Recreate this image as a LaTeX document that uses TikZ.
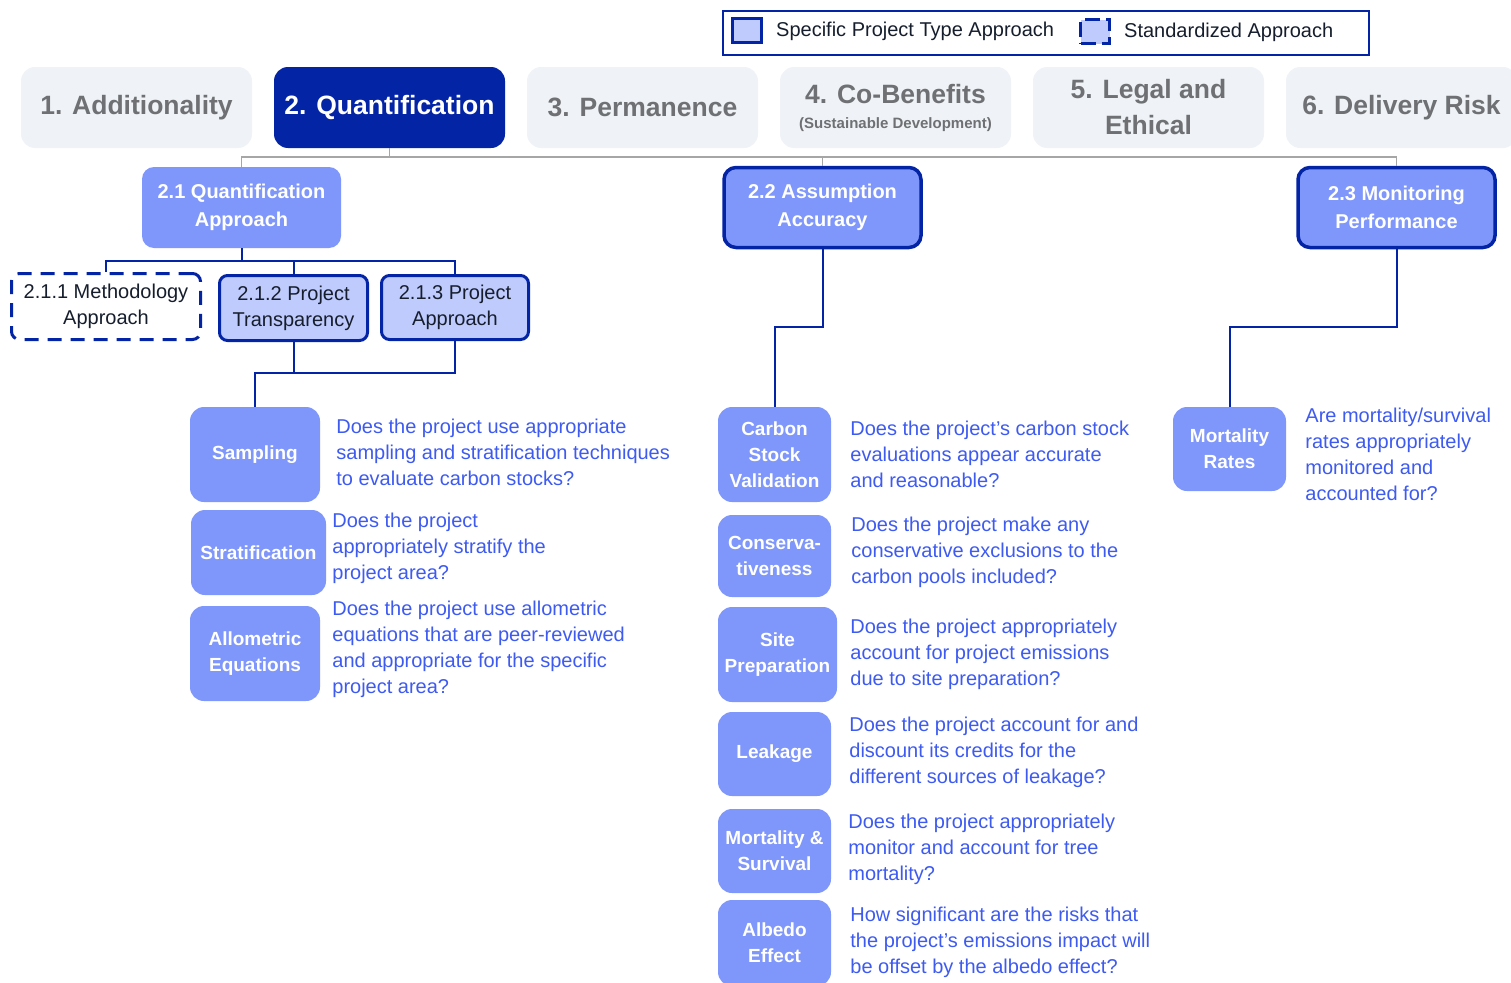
\documentclass[tikz,border=0pt]{standalone}
\usepackage{fontspec}
\setmainfont{Liberation Sans}
\usepackage{tikz}
\usetikzlibrary{positioning}

\definecolor{navy}{RGB}{4,36,166}
\definecolor{midblue}{RGB}{127,150,250}
\definecolor{paleblue}{RGB}{190,203,252}
\definecolor{tabgray}{RGB}{239,242,246}
\definecolor{tabtext}{RGB}{110,112,115}
\definecolor{qblue}{RGB}{61,90,241}
\definecolor{inkdark}{RGB}{22,30,45}
\definecolor{trunkgray}{RGB}{166,166,166}

\tikzstyle{tab} = [rectangle, fill=tabgray, text=tabtext, rounded corners=14pt, minimum width=231pt, minimum height=81pt, align=center, font=\bfseries\fontsize{26.5}{36}\selectfont]
\tikzstyle{tabon} = [tab, fill=navy, text=white]
\tikzstyle{topic} = [rectangle, fill=midblue, text=white, rounded corners=12pt, minimum width=199pt, minimum height=81pt, align=center, font=\bfseries\fontsize{20}{28}\selectfont]
\tikzstyle{topicspec} = [topic, draw=navy, line width=3.5pt, minimum width=197pt, minimum height=80pt]
\tikzstyle{sub} = [rectangle, fill=paleblue, draw=navy, line width=3pt, rounded corners=8pt, text=inkdark, align=center, font=\fontsize{20}{26}\selectfont]
\tikzstyle{substd} = [sub, fill=white, dash pattern=on 14pt off 9pt]
\tikzstyle{crit} = [rectangle, fill=midblue, text=white, rounded corners=14pt, inner sep=2pt, align=center, font=\bfseries\fontsize{19}{26}\selectfont]
\tikzstyle{question} = [inner sep=0pt, text=qblue, align=left, font=\fontsize{20}{26}\selectfont]
\tikzstyle{keybox} = [rectangle, fill=paleblue, draw=navy, line width=3pt, minimum width=29pt, minimum height=24pt]
\tikzstyle{keytext} = [inner sep=0pt, text=inkdark, font=\fontsize{20}{24}\selectfont]
\tikzstyle{trunk} = [draw=trunkgray, line width=1.5pt]
\tikzstyle{branch} = [draw=navy, line width=2pt]

\begin{document}
\begin{tikzpicture}[x=1pt, y=-1pt, node distance=16pt]
    \useasboundingbox (0,0) rectangle (1511,982);

    % Legend
    \node (legend) [rectangle, draw=navy, line width=2.5pt, minimum width=646pt, minimum height=44pt] at (1046,33) {};
    \node (keyspec) [keybox] at (747,31) {};
    \node (keyspectxt) [keytext, right=13pt of keyspec] {Specific Project Type Approach};
    \node (keystd) [keybox, dash pattern=on 15pt off 6pt] at (1095,32) {};
    \node (keystdtxt) [keytext, right=13pt of keystd] {Standardized Approach};

    % Pillars
    \node (add) [tab] at (136.5,107.5) {1. Additionality};
    \node (quant) [tabon] at (389.5,107.5) {2. Quantification};
    \node (perm) [tab] at (642.5,107.5) {3. Permanence};
    \node (cob) [tab] at (895.5,107.5) {4. Co-Benefits\\[-11pt]{\fontsize{15}{18}\selectfont (Sustainable Development)}};
    \node (legal) [tab] at (1148.5,107.5) {5. Legal and\\Ethical};
    \node (deliv) [tab] at (1401.5,107.5) {6. Delivery Risk};

    % Topics
    \node (qa) [topic] at (241.5,207.5) {2.1 Quantification\\Approach};
    \node (aa) [topicspec] at (822.5,207.5) {2.2 Assumption\\Accuracy};
    \node (mp) [topicspec] at (1396.5,207.5) {2.3 Monitoring\\Performance};

    \coordinate (trunk) at (389.5,157);
    \draw [trunk] (quant.south) -- (trunk);
    \draw [trunk] (qa.north) |- (trunk) -| (mp.north);
    \draw [trunk] (aa.north) -- (aa.north |- trunk);

    % Sub-topics of 2.1
    \node (meth) [substd, minimum width=189pt, minimum height=66pt] at (106,306.5) {2.1.1 Methodology\\Approach};
    \node (transp) [sub, minimum width=148pt, minimum height=65pt] at (293.5,308) {2.1.2 Project\\Transparency};
    \node (projapp) [sub, minimum width=147pt, minimum height=64pt] at (455,307.5) {2.1.3 Project\\Approach};

    \coordinate (jqa) at (241.5,261);
    \draw [branch] (qa.south) -- (jqa);
    \draw [branch] (meth.north) |- (jqa) -| (projapp.north);
    \draw [branch] (transp.north) -- (transp.north |- jqa);

    % Criteria under 2.1
    \node (samp) [crit, minimum width=130pt, minimum height=95pt] at (255,454.5) {Sampling};
    \node (strat) [crit, minimum width=135pt, minimum height=85pt] at (258.5,552.5) {Stratification};
    \node (allo) [crit, minimum width=130pt, minimum height=95pt] at (255,653.5) {Allometric\\Equations};

    \coordinate (jtr) at (293.5,373);
    \draw [branch] (transp.south) -- (jtr);
    \draw [branch] (projapp.south) |- (samp.north |- jtr) -- (samp.north);

    \node (qsamp) [question, right=16pt of samp, yshift=2pt] {Does the project use appropriate\\sampling and stratification techniques\\to evaluate carbon stocks?};
    \node (qstrat) [question, right=6pt of strat, yshift=4pt] {Does the project\\appropriately stratify the\\project area?};
    \node (qallo) [question, right=12pt of allo, yshift=4pt] {Does the project use allometric\\equations that are peer-reviewed\\and appropriate for the specific\\project area?};

    % Criteria under 2.2
    \node (csv) [crit, minimum width=113pt, minimum height=95pt] at (774.5,454.5) {Carbon\\Stock\\Validation};
    \node (cons) [crit, minimum width=113pt, minimum height=82pt] at (774.5,556) {Conserva-\\tiveness};
    \node (site) [crit, minimum width=119pt, minimum height=95pt] at (777.5,654.5) {Site\\Preparation};
    \node (leak) [crit, minimum width=113pt, minimum height=84pt] at (774.5,754) {Leakage};
    \node (mort) [crit, minimum width=113pt, minimum height=84pt] at (774.5,851) {Mortality \&\\Survival};
    \node (albe) [crit, minimum width=113pt, minimum height=86pt] at (774.5,943) {Albedo\\Effect};

    \coordinate (jaa) at (822.5,327);
    \draw [branch] (aa.south) -- (jaa) -| (csv.north);

    \node (qcsv) [question, right=19pt of csv] {Does the project's carbon stock\\evaluations appear accurate\\and reasonable?};
    \node (qcons) [question, right=20pt of cons, yshift=4pt] {Does the project make any\\conservative exclusions to the\\carbon pools included?};
    \node (qsite) [question, right=13pt of site] {Does the project appropriately\\account for project emissions\\due to site preparation?};
    \node (qleak) [question, right=18pt of leak, yshift=2pt] {Does the project account for and\\discount its credits for the\\different sources of leakage?};
    \node (qmort) [question, right=17pt of mort, yshift=2pt] {Does the project appropriately\\monitor and account for tree\\mortality?};
    \node (qalbe) [question, right=19pt of albe, yshift=1pt] {How significant are the risks that\\the project’s emissions impact will\\be offset by the albedo effect?};

    % Criteria under 2.3
    \node (mrate) [crit, minimum width=113pt, minimum height=84pt] at (1229.5,449) {Mortality\\Rates};

    \coordinate (jmp) at (1396.5,327);
    \draw [branch] (mp.south) -- (jmp) -| (mrate.north);

    \node (qmrate) [question, right=19pt of mrate, yshift=-5pt] {Are mortality/survival\\rates appropriately\\monitored and\\accounted for?};
\end{tikzpicture}
\end{document}
